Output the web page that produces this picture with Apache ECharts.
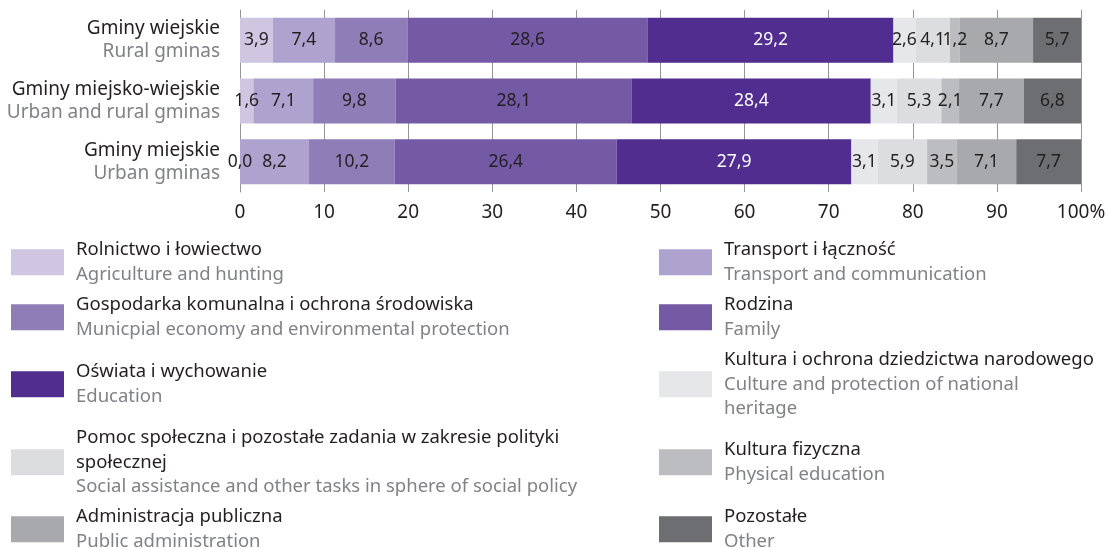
<!DOCTYPE html>
<html>
<head>
<meta charset="utf-8">
<script src="https://cdn.jsdelivr.net/npm/echarts@6/dist/echarts.min.js"></script>
<style>
  html, body { margin: 0; padding: 0; background: #ffffff; }
  #chart { width: 1109px; height: 548px; }
</style>
</head>
<body>
<div id="chart"></div>
<script>
// Gminy types (rows, top to bottom)
const categoriesPl = ['Gminy wiejskie', 'Gminy miejsko-wiejskie', 'Gminy miejskie'];
const categoriesEn = ['Rural gminas', 'Urban and rural gminas', 'Urban gminas'];

// Expenditure sections (stack order, left to right)
const sectionsPl = [
  'Rolnictwo i łowiectwo',
  'Transport i łączność',
  'Gospodarka komunalna i ochrona środowiska',
  'Rodzina',
  'Oświata i wychowanie',
  'Kultura i ochrona dziedzictwa narodowego',
  'Pomoc społeczna i pozostałe zadania w zakresie polityki społecznej',
  'Kultura fizyczna',
  'Administracja publiczna',
  'Pozostałe'
];
const sectionsEn = [
  'Agriculture and hunting',
  'Transport and communication',
  'Municpial economy and environmental protection',
  'Family',
  'Education',
  'Culture and protection of national heritage',
  'Social assistance and other tasks in sphere of social policy',
  'Physical education',
  'Public administration',
  'Other'
];

// Shares in % for each row
const ruralValues      = [3.9, 7.4, 8.6, 28.6, 29.2, 2.6, 4.1, 1.2, 8.7, 5.7];
const urbanRuralValues = [1.6, 7.1, 9.8, 28.1, 28.4, 3.1, 5.3, 2.1, 7.7, 6.8];
const urbanValues      = [0.0, 8.2, 10.2, 26.4, 27.9, 3.1, 5.9, 3.5, 7.1, 7.7];

const xTicks = [0, 10, 20, 30, 40, 50, 60, 70, 80, 90, 100];

const colors = ['#cfc6e2', '#aea2ce', '#8f7db8', '#7459a5', '#512d8f',
                '#e6e7e8', '#dcdddf', '#bcbdc0', '#a7a9ac', '#6d6e71'];

const FONT = '"Noto Sans", sans-serif';
const DARK = '#231f20';
const GREY = '#808285';

const rows = [ruralValues, urbanRuralValues, urbanValues];

const series = sectionsPl.map((name, i) => ({
  name: name,
  type: 'bar',
  stack: 'total',
  barWidth: 45,
  itemStyle: { color: colors[i] },
  label: {
    show: true,
    position: 'inside',
    fontFamily: FONT,
    fontSize: 17.5,
    color: i === 4 ? '#ffffff' : DARK,
    formatter: p => p.value.toFixed(1).replace('.', ',')
  },
  emphasis: { disabled: true },
  data: rows.map(r => r[i])
}));

// Legend text: Polish line(s) above the English one; long names wrap by hand
const legendLines = {
  6: { pl: ['Pomoc społeczna i pozostałe zadania w zakresie polityki', 'społecznej'], en: ['Social assistance and other tasks in sphere of social policy'] },
  5: { pl: ['Kultura i ochrona dziedzictwa narodowego'], en: ['Culture and protection of national', 'heritage'] }
};
function legendText(i) {
  const l = legendLines[i] || { pl: [sectionsPl[i]], en: [sectionsEn[i]] };
  return l.pl.map(s => '{pl|' + s + '}').concat(l.en.map(s => '{en|' + s + '}')).join('\n');
}
function lineCount(i) {
  const l = legendLines[i];
  return l ? l.pl.length + l.en.length : 2;
}

const LINE_H = 24.5;
const legendCenters = [261, 261, 316, 316, 383, 383, 461, 461, 528, 528];
const legends = sectionsPl.map((name, i) => ({
  data: [name],
  left: i % 2 === 0 ? 11 : 659,
  top: legendCenters[i] + 4 - lineCount(i) * LINE_H / 2,
  padding: 0,
  itemWidth: 53,
  itemHeight: 26,
  itemGap: 0,
  icon: 'rect',
  selectedMode: false,
  itemStyle: { borderWidth: 0 },
  formatter: () => legendText(i),
  textStyle: {
    padding: [0, 0, 0, 7],
    rich: {
      pl: { fontFamily: FONT, fontSize: 18.5, color: DARK, lineHeight: LINE_H },
      en: { fontFamily: FONT, fontSize: 18.5, color: GREY, lineHeight: LINE_H }
    }
  }
}));

const chart = echarts.init(document.getElementById('chart'), null, { renderer: 'canvas' });
chart.setOption({
  animation: false,
  backgroundColor: '#ffffff',
  color: colors,
  legend: legends,
  grid: { left: 240, right: 28, top: 10, height: 182, containLabel: false },
  xAxis: {
    type: 'value',
    min: 0,
    max: 100,
    interval: 10,
    axisLine: { show: false },
    axisTick: { show: false },
    splitLine: { show: true, lineStyle: { color: '#939598', width: 1 } },
    axisLabel: {
      margin: 11,
      fontFamily: FONT,
      fontSize: 19,
      color: DARK,
      formatter: v => xTicks.indexOf(v) === xTicks.length - 1 ? v + '%' : String(v)
    }
  },
  yAxis: {
    type: 'category',
    inverse: true,
    data: categoriesPl,
    axisLine: { show: true, lineStyle: { color: '#939598', width: 1 } },
    axisTick: { show: false },
    axisLabel: {
      margin: 20,
      align: 'right',
      formatter: (v, idx) => '{pl|' + v + '}\n{en|' + categoriesEn[idx] + '}',
      rich: {
        pl: { fontFamily: FONT, fontSize: 19, color: DARK, lineHeight: 23, align: 'right' },
        en: { fontFamily: FONT, fontSize: 19, color: GREY, lineHeight: 23, align: 'right' }
      }
    }
  },
  series: series
});
</script>
</body>
</html>
